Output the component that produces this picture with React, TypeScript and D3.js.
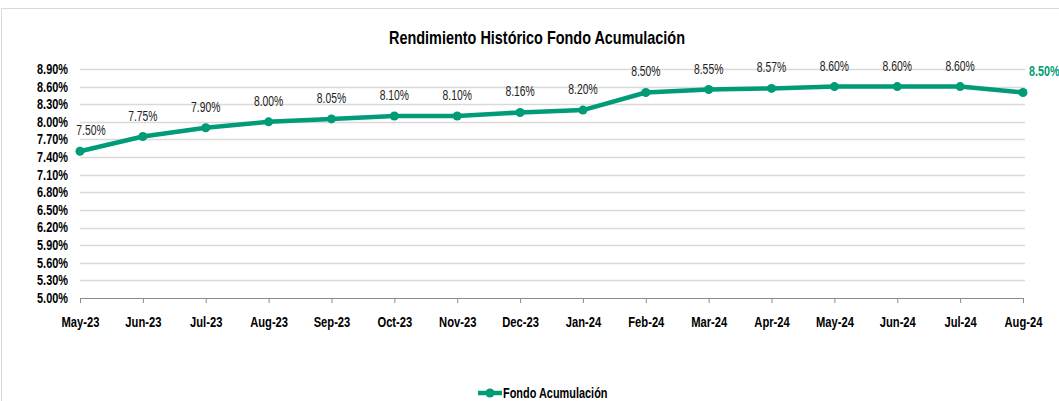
import { useEffect, useRef } from "react"
import * as d3 from "d3"

const months = [
  "May-23", "Jun-23", "Jul-23", "Aug-23", "Sep-23", "Oct-23", "Nov-23", "Dec-23",
  "Jan-24", "Feb-24", "Mar-24", "Apr-24", "May-24", "Jun-24", "Jul-24", "Aug-24",
]
const rates = [7.5, 7.75, 7.9, 8.0, 8.05, 8.1, 8.1, 8.16, 8.2, 8.5, 8.55, 8.57, 8.6, 8.6, 8.6, 8.5]
const yTicks = [5.0, 5.3, 5.6, 5.9, 6.2, 6.5, 6.8, 7.1, 7.4, 7.7, 8.0, 8.3, 8.6, 8.9]

const seriesName = "Fondo Acumulación"
const title = "Rendimiento Histórico Fondo Acumulación"

// narrow the glyphs horizontally (no condensed font installed), keeping the anchor point
function squeeze(sel: d3.Selection<any, any, any, any>, sx: number) {
  sel.each(function () {
    const t = d3.select(this)
    const x = +(t.attr("x") || 0)
    const y = +(t.attr("y") || 0)
    t.attr("x", 0).attr("y", 0).attr("transform", `translate(${x},${y}) scale(${sx},1)`)
  })
}

export default function App() {
  const svgRef = useRef<SVGSVGElement>(null)

  useEffect(() => {
    if (!svgRef.current) return
    const svg = d3.select(svgRef.current)
    svg.selectAll("*").remove()

    const width = 1059
    const height = 401
    const margin = { top: 69, right: 36, bottom: 103, left: 80 }
    const innerWidth = width - margin.left - margin.right
    const innerHeight = height - margin.top - margin.bottom
    const font = "'Liberation Sans', Arial, sans-serif"
    const green = "#009B77"

    // chart frame
    svg.append("path")
      .attr("d", `M1.5,${height} L1.5,8.5 L${width},8.5`)
      .attr("fill", "none")
      .attr("stroke", "#d9d9d9")
      .attr("stroke-width", 1)

    const x = d3.scalePoint<string>().domain(months).range([0, innerWidth])
    const y = d3.scaleLinear().domain([5.0, 8.9]).range([innerHeight, 0])

    const g = svg.append("g").attr("transform", `translate(${margin.left},${margin.top})`)

    // gridlines
    g.append("g")
      .selectAll("line")
      .data(yTicks.slice(1))
      .join("line")
      .attr("x1", 0)
      .attr("x2", innerWidth + 2)
      .attr("y1", (d) => Math.round(y(d)) + 0.5)
      .attr("y2", (d) => Math.round(y(d)) + 0.5)
      .attr("stroke", "#d9d9d9")
      .attr("stroke-width", 1.5)

    // y axis labels
    const yLabels = g.append("g")
      .selectAll("text")
      .data(yTicks)
      .join("text")
      .attr("x", -12)
      .attr("y", (d) => y(d))
      .attr("dy", "0.35em")
      .attr("text-anchor", "end")
      .attr("font-family", font)
      .attr("font-size", "14px")
      .attr("font-weight", "bold")
      .attr("fill", "#000")
      .text((d) => `${d.toFixed(2)}%`)
    squeeze(yLabels, 0.78)

    // x axis
    const xAxis = g.append("g")
      .attr("transform", `translate(0,${innerHeight})`)
      .call(d3.axisBottom(x).tickSize(5).tickSizeOuter(0).tickPadding(14))
    xAxis.select(".domain").attr("stroke", "#8c8c8c")
    xAxis.selectAll(".tick line").attr("stroke", "#8c8c8c")
    const xLabels = xAxis.selectAll("text")
      .attr("font-family", font)
      .attr("font-size", "14px")
      .attr("font-weight", "bold")
      .attr("fill", "#000")
    squeeze(xLabels, 0.8)

    // line
    const line = d3.line<number>()
      .x((_, i) => x(months[i]) || 0)
      .y((d) => y(d))
    g.append("path")
      .datum(rates)
      .attr("d", line)
      .attr("fill", "none")
      .attr("stroke", green)
      .attr("stroke-width", 4.5)
      .attr("stroke-linejoin", "round")

    g.selectAll("circle")
      .data(rates)
      .join("circle")
      .attr("cx", (_, i) => x(months[i]) || 0)
      .attr("cy", (d) => y(d))
      .attr("r", 4.5)
      .attr("fill", green)

    // data labels
    const last = rates.length - 1
    const dataLabels = g.append("g")
      .selectAll("text")
      .data(rates)
      .join("text")
      .attr("x", (_, i) => (x(months[i]) || 0) + (i === 0 ? 11 : i === last ? 6 : 0))
      .attr("y", (d) => y(d) - 16)
      .attr("text-anchor", (_, i) => (i === last ? "start" : "middle"))
      .attr("font-family", font)
      .attr("font-size", (_, i) => (i === last ? "14.5px" : "14px"))
      .attr("font-weight", (_, i) => (i === last ? "bold" : "normal"))
      .attr("fill", (_, i) => (i === last ? green : "#222"))
      .text((d) => `${d.toFixed(2)}%`)
    squeeze(dataLabels, 0.74)

    // title
    const titleText = svg.append("text")
      .attr("x", 537)
      .attr("y", 44)
      .attr("text-anchor", "middle")
      .attr("font-family", font)
      .attr("font-size", "18.5px")
      .attr("font-weight", "bold")
      .attr("fill", "#000")
      .text(title)
    squeeze(titleText, 0.78)

    // legend
    const lg = svg.append("g").attr("transform", "translate(478,393)")
    lg.append("line")
      .attr("x1", 0).attr("x2", 24).attr("y1", 0).attr("y2", 0)
      .attr("stroke", green).attr("stroke-width", 4.5)
    lg.append("circle").attr("cx", 12).attr("cy", 0).attr("r", 4.5).attr("fill", green)
    const legendText = lg.append("text")
      .attr("x", 25)
      .attr("y", 0)
      .attr("dy", "0.35em")
      .attr("font-family", font)
      .attr("font-size", "14px")
      .attr("font-weight", "bold")
      .attr("fill", "#000")
      .text(seriesName)
    squeeze(legendText, 0.78)
  }, [])

  return (
    <svg
      ref={svgRef}
      width={1059}
      height={401}
      style={{ position: "absolute", left: 0, top: 0, background: "#fff" }}
    />
  )
}
